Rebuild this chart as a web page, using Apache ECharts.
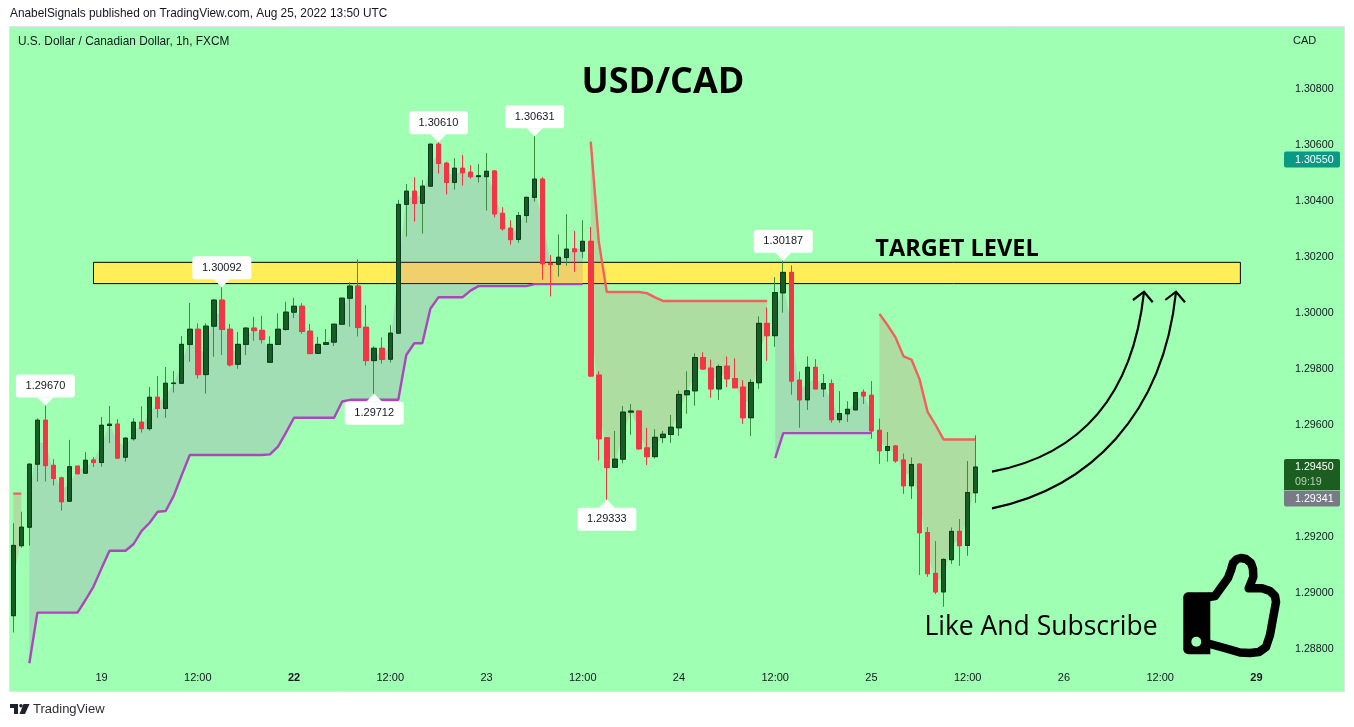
<!DOCTYPE html>
<html><head><meta charset="utf-8">
<style>html,body{margin:0;padding:0;background:#fff}#c{width:1354px;height:727px}</style>
<script src="https://cdn.jsdelivr.net/npm/echarts@6/dist/echarts.min.js"></script>
</head><body><div id="c"></div>
<script>
const opens=[1.28919,1.29169,1.29235,1.29460,1.29617,1.29456,1.29411,1.29328,1.29453,1.29428,
1.29475,1.29466,1.29598,1.29603,1.29485,1.29551,1.29610,1.29587,1.29699,1.29659,
1.29748,1.29749,1.29888,1.29942,1.29780,1.29953,1.30046,1.29942,1.29817,1.29888,
1.29946,1.29938,1.29824,1.29888,1.29941,1.30003,1.30024,1.29935,1.29856,1.29888,
1.29896,1.29960,1.30053,1.30096,1.29949,1.29830,1.29874,1.29835,1.29928,1.30388,
1.30435,1.30392,1.30453,1.30603,1.30535,1.30466,1.30517,1.30503,1.30487,1.30487,
1.30507,1.30356,1.30303,1.30263,1.30348,1.30413,1.30478,1.30176,1.30174,1.30198,
1.30229,1.30221,1.30256,1.29778,1.29554,1.29449,1.29478,1.29646,1.29650,1.29518,
1.29487,1.29555,1.29566,1.29590,1.29708,1.29722,1.29841,1.29803,1.29729,1.29810,
1.29766,1.29735,1.29626,1.29751,1.29963,1.29919,1.30072,1.30145,1.29760,1.29690,
1.29806,1.29729,1.29748,1.29619,1.29640,1.29654,1.29717,1.29706,1.29581,1.29509,
1.29525,1.29475,1.29383,1.29460,1.29216,1.29070,1.29004,1.29119,1.29220,1.29170,
1.29358];
const closes=[1.29170,1.29235,1.29460,1.29617,1.29455,1.29409,1.29326,1.29451,1.29426,1.29474,
1.29466,1.29599,1.29603,1.29482,1.29553,1.29610,1.29587,1.29699,1.29659,1.29749,
1.29750,1.29888,1.29942,1.29780,1.29953,1.30046,1.29941,1.29815,1.29888,1.29946,
1.29937,1.29905,1.29888,1.29942,1.30003,1.30024,1.29934,1.29855,1.29888,1.29894,
1.29960,1.30053,1.30096,1.29948,1.29830,1.29874,1.29834,1.29928,1.30388,1.30435,
1.30391,1.30453,1.30603,1.30534,1.30466,1.30517,1.30501,1.30487,1.30490,1.30506,
1.30354,1.30301,1.30262,1.30348,1.30413,1.30478,1.30176,1.30173,1.30199,1.30228,
1.30219,1.30256,1.29775,1.29551,1.29448,1.29478,1.29646,1.29650,1.29515,1.29487,
1.29556,1.29567,1.29592,1.29709,1.29722,1.29841,1.29800,1.29729,1.29809,1.29765,
1.29733,1.29626,1.29752,1.29963,1.29919,1.30073,1.30145,1.29757,1.29690,1.29806,
1.29729,1.29748,1.29619,1.29641,1.29656,1.29716,1.29704,1.29579,1.29508,1.29523,
1.29472,1.29383,1.29459,1.29215,1.29069,1.29004,1.29120,1.29220,1.29169,1.29359,
1.29450];
const highs=[1.29249,1.29290,1.29463,1.29624,1.29670,1.29478,1.29415,1.29547,1.29453,1.29503,
1.29485,1.29629,1.29668,1.29621,1.29556,1.29624,1.29667,1.29736,1.29775,1.29807,
1.29793,1.29918,1.30036,1.29963,1.29963,1.30050,1.30092,1.29961,1.29932,1.29949,
1.29986,1.29990,1.29917,1.29999,1.30040,1.30054,1.30035,1.29961,1.29915,1.29943,
1.29960,1.30053,1.30110,1.30192,1.30028,1.29881,1.29913,1.29957,1.30404,1.30461,
1.30485,1.30475,1.30603,1.30610,1.30540,1.30553,1.30565,1.30528,1.30532,1.30571,
1.30510,1.30378,1.30331,1.30361,1.30416,1.30631,1.30485,1.30207,1.30281,1.30353,
1.30293,1.30331,1.30307,1.29792,1.29556,1.29579,1.29668,1.29675,1.29650,1.29590,
1.29585,1.29579,1.29636,1.29723,1.29792,1.29856,1.29860,1.29834,1.29816,1.29845,
1.29838,1.29760,1.29764,1.29988,1.30020,1.30128,1.30187,1.30170,1.29791,1.29845,
1.29835,1.29782,1.29763,1.29721,1.29685,1.29716,1.29727,1.29757,1.29623,1.29575,
1.29528,1.29498,1.29484,1.29463,1.29235,1.29185,1.29123,1.29234,1.29264,1.29471,
1.29563];
const lows=[1.28859,1.29162,1.29169,1.29398,1.29398,1.29384,1.29294,1.29326,1.29426,1.29428,
1.29450,1.29451,1.29536,1.29480,1.29469,1.29544,1.29573,1.29580,1.29626,1.29626,
1.29716,1.29748,1.29826,1.29766,1.29712,1.29844,1.29850,1.29809,1.29801,1.29850,
1.29901,1.29891,1.29823,1.29887,1.29937,1.29982,1.29926,1.29855,1.29855,1.29888,
1.29882,1.29959,1.29951,1.29916,1.29812,1.29712,1.29819,1.29823,1.29928,1.30273,
1.30326,1.30284,1.30453,1.30498,1.30423,1.30441,1.30455,1.30480,1.30466,1.30366,
1.30341,1.30294,1.30244,1.30251,1.30322,1.30398,1.30119,1.30059,1.30130,1.30169,
1.30147,1.30197,1.29773,1.29473,1.29333,1.29448,1.29463,1.29565,1.29512,1.29457,
1.29480,1.29535,1.29536,1.29561,1.29640,1.29669,1.29797,1.29697,1.29689,1.29735,
1.29732,1.29604,1.29561,1.29729,1.29829,1.29879,1.30001,1.29708,1.29590,1.29654,
1.29729,1.29700,1.29608,1.29608,1.29611,1.29654,1.29675,1.29551,1.29461,1.29469,
1.29465,1.29354,1.29336,1.29064,1.29058,1.28996,1.28951,1.29104,1.29097,1.29133,
1.29322];

// Supertrend-like stops: each run gives the bar it starts on and its values
const supportRunA=[1.28749,1.28930,1.28930,1.28930,1.28930,1.28930,1.28930,1.28975,1.29023,1.29088,
1.29151,1.29151,1.29151,1.29175,1.29222,1.29251,1.29290,1.29293,1.29347,1.29421,
1.29493,1.29493,1.29493,1.29493,1.29493,1.29493,1.29493,1.29493,1.29493,1.29493,
1.29495,1.29523,1.29573,1.29626,1.29626,1.29626,1.29626,1.29626,1.29626,1.29684,
1.29690,1.29690,1.29690,1.29690,1.29690,1.29690,1.29690,1.29850,1.29892,1.29892,
1.30015,1.30056,1.30056,1.30056,1.30056,1.30080,1.30096,1.30096,1.30096,1.30096,
1.30096,1.30096,1.30096,1.30103,1.30103,1.30103,1.30103,1.30103,1.30103,1.30103];
const supportRunB=[1.29482,1.29571,1.29571,1.29571,1.29571,1.29571,1.29571,1.29571,1.29571,1.29571,1.29571,1.29571,1.29571];
const resistRunA=[1.29355,1.29355];
const resistRunB=[1.30612,1.30255,1.30075,1.30075,1.30075,1.30075,1.30075,1.30071,1.30056,1.30043,
1.30043,1.30043,1.30043,1.30043,1.30043,1.30043,1.30043,1.30043,1.30043,1.30043,1.30043,1.30043,1.30043];
const resistRunC=[1.29997,1.29957,1.29913,1.29845,1.29833,1.29763,1.29647,1.29600,1.29548,1.29548,1.29548,1.29548,1.29548];
const supportStarts=[2,95], resistStarts=[0,72,108];

const barCount=159;
const timeTickBars=[11,23,35,47,59,71,83,95,107,119,131,143,155];
const timeTickLabels=['19','12:00','22','12:00','23','12:00','24','12:00','25','12:00','26','12:00','29'];
const boldTimeTicks=['22','29'];
const priceTicks=[1.288,1.290,1.292,1.294,1.296,1.298,1.300,1.302,1.304,1.306,1.308];

const calloutUpBars=[4,26,53,65,96], calloutUpPrices=[1.29670,1.30092,1.30610,1.30631,1.30187];
const calloutDownBars=[45,74], calloutDownPrices=[1.29712,1.29333];
const targetZone={fromBar:10,toBar:153,top:1.30181,bottom:1.30105};

const publishedLine='AnabelSignals published on TradingView.com, Aug 25, 2022 13:50 UTC';
const symbolLine='U.S. Dollar / Canadian Dollar, 1h, FXCM';
const bidBadge='1.30550', lastBadge='1.29450', countdownBadge='09:19', prevBadge='1.29341';

const BG='#9FFFB2', INK='#131722', UI='Liberation Sans', HEAD='Open Sans';

const cats=Array.from({length:barCount},(_,i)=>String(i));
const mids=opens.map((o,i)=>(o+closes[i])/2);
function runsToLine(runs,starts){const a=opens.map(()=>null);runs.forEach((r,k)=>r.forEach((v,j)=>{a[starts[k]+j]=v;}));return a;}
const support=runsToLine([supportRunA,supportRunB],supportStarts);
const resist=runsToLine([resistRunA,resistRunB,resistRunC],resistStarts);
const lowerDiff=support.map((v,i)=>v==null?null:mids[i]-v);
const upperBase=resist.map((v,i)=>v==null?null:mids[i]);
const upperDiff=resist.map((v,i)=>v==null?null:v-mids[i]);

const ohlc=opens.map((o,i)=>[o,closes[i],lows[i],highs[i]]);
const bodies=opens.map((o,i)=>[o,closes[i],Math.min(o,closes[i]),Math.max(o,closes[i])]);
function hidden(name,data,stack){return {name,type:'line',data,stack,symbol:'none',silent:true,z:2,lineStyle:{width:0,opacity:0}};}
function band(name,data,stack,color){return {name,type:'line',data,stack,symbol:'none',silent:true,z:2,lineStyle:{width:0,opacity:0},areaStyle:{color,opacity:1}};}
function stop(name,data,color){return {name,type:'line',data,symbol:'none',silent:true,z:3,lineStyle:{width:2.4,color}};}
function callout(name,bars,prices,up){
  return {name,type:'scatter',z:6,silent:true,clip:false,symbol:'triangle',symbolSize:[16,8],symbolRotate:up?180:0,symbolOffset:[0,up?-4:4],
    itemStyle:{color:'#fff',opacity:1},
    data:bars.map((b,i)=>[b,prices[i]]),
    label:{show:true,position:up?'top':'bottom',distance:0,color:INK,fontFamily:UI,fontSize:11,backgroundColor:'#fff',borderRadius:3,
      width:59,height:23,lineHeight:23,align:'center',formatter:p=>p.value[1].toFixed(5)}};
}
const chart=echarts.init(document.getElementById('c'),null,{renderer:'canvas'});
const thumbPoints=[[1209,597],[1215,596],[1228,578],[1231,570],[1233,563],[1237,559],[1241,558],[1246,559],[1251,563],[1253,569],[1253.3,577],[1248.7,588.3],[1262,588.3],[1270,591],[1275,596],[1276,602],[1272.7,620],[1270,635],[1266,647],[1259,652],[1250,653],[1240,652.5],[1228,649],[1210,644]];
chart.setOption({
  animation:false,backgroundColor:'#fff',
  grid:{left:9.3,top:27,width:1275.2,height:664,containLabel:false},
  tooltip:{show:false},legend:{show:false},
  xAxis:{type:'category',data:cats,boundaryGap:true,axisLine:{show:false},axisTick:{show:false},splitLine:{show:false},
    axisLabel:{show:true,inside:true,interval:0,margin:8,color:INK,fontFamily:UI,fontSize:11,hideOverlap:false,
      rich:{b:{fontWeight:'bold',fontFamily:UI,fontSize:11,color:INK}},
      formatter:(v,i)=>{const k=timeTickBars.indexOf(i);if(k<0)return '';const t=timeTickLabels[k];return boldTimeTicks.includes(t)?'{b|'+t+'}':t;}}},
  yAxis:{type:'value',position:'right',min:1.2865,max:1.3102143,scale:true,axisLine:{show:false},axisTick:{show:false},splitLine:{show:false},
    axisLabel:{customValues:priceTicks,margin:10.5,color:INK,fontFamily:UI,fontSize:10.7,align:'left',formatter:v=>v.toFixed(5)}},
  series:[
    {name:'zone',type:'line',data:[],z:1,silent:true,markArea:{silent:true,z:1,itemStyle:{color:'#FFEE58',borderColor:'#000',borderWidth:1,opacity:1},
      data:[[{xAxis:targetZone.fromBar,yAxis:targetZone.top},{xAxis:targetZone.toBar,yAxis:targetZone.bottom}]]}},
    hidden('supportBase',support,'lo'),
    band('supportFill',lowerDiff,'lo','rgba(171,71,188,0.18)'),
    hidden('resistBase',upperBase,'hi'),
    band('resistFill',upperDiff,'hi','rgba(242,54,69,0.17)'),
    stop('support',support,'#AB47BC'),
    stop('resist',resist,'#F25F5C'),
    {name:'wicks',type:'candlestick',data:ohlc,barWidth:5,z:4,silent:true,itemStyle:{color:'#388E3C',color0:'#F23645',borderColor:'#388E3C',borderColor0:'#F23645',borderWidth:1}},
    {name:'USDCAD',type:'candlestick',data:bodies,barWidth:5,z:5,silent:true,itemStyle:{color:'#175C25',color0:'#F23645',borderColor:'#0B3A1C',borderColor0:'#F23645',borderWidth:1}},
    callout('highs',calloutUpBars,calloutUpPrices,true),
    callout('lows',calloutDownBars,calloutDownPrices,false)
  ],
  graphic:{elements:[
    {type:'rect',z:-5,silent:true,shape:{x:9.5,y:26.5,width:1335,height:665},style:{fill:BG,stroke:'#E0E3EB',lineWidth:1}},
    {type:'text',z:20,style:{x:10,y:14,text:publishedLine,fill:INK,font:'11.85px "'+UI+'"',textVerticalAlign:'middle'}},
    {type:'text',z:20,style:{x:18,y:42,text:symbolLine,fill:INK,font:'11.85px "'+UI+'"',textVerticalAlign:'middle'}},
    {type:'text',z:20,style:{x:1293,y:41,text:'CAD',fill:INK,font:'11px "'+UI+'"',textVerticalAlign:'middle'}},
    {type:'text',z:20,style:{x:663,y:83,text:'USD/CAD',fill:'#000',font:'bold 36px "'+HEAD+'"',textAlign:'center',textVerticalAlign:'middle'}},
    {type:'text',z:20,style:{x:957,y:249,text:'TARGET LEVEL',fill:'#000',font:'bold 23.5px "'+HEAD+'"',textAlign:'center',textVerticalAlign:'middle'}},
    {type:'text',z:20,style:{x:1041,y:627,text:'Like And Subscribe',fill:'#000',font:'26.5px "'+HEAD+'"',textAlign:'center',textVerticalAlign:'middle'}},
    {type:'bezierCurve',z:20,silent:true,shape:{x1:992,y1:471.7,cpx1:1075,cpy1:456,cpx2:1132,cpy2:402,x2:1144,y2:292},style:{fill:'none',stroke:'#000',lineWidth:2.2}},
    {type:'bezierCurve',z:20,silent:true,shape:{x1:992,y1:508.3,cpx1:1090,cpy1:488,cpx2:1163,cpy2:415,x2:1176,y2:292},style:{fill:'none',stroke:'#000',lineWidth:2.2}},
    {type:'polyline',z:20,silent:true,shape:{points:[[1133,300],[1144,291.7],[1152.7,302.3]]},style:{fill:'none',stroke:'#000',lineWidth:2.2}},
    {type:'polyline',z:20,silent:true,shape:{points:[[1165.3,300],[1176,291.7],[1185,302.3]]},style:{fill:'none',stroke:'#000',lineWidth:2.2}},
    {type:'rect',z:20,silent:true,shape:{x:1183.3,y:592.3,width:27,height:62,r:[5,0,0,5]},style:{fill:'#000'}},
    {type:'circle',z:21,silent:true,shape:{cx:1196.3,cy:641.7,r:5},style:{fill:BG}},
    {type:'polyline',z:20,silent:true,shape:{points:thumbPoints},style:{fill:'none',stroke:'#000',lineWidth:8.5,lineJoin:'round',lineCap:'round'}},
    {type:'rect',z:20,silent:true,shape:{x:1284,y:151.5,width:56,height:16,r:[2,2,2,2]},style:{fill:'#0A9982'}},
    {type:'text',z:21,style:{x:1295,y:160,text:bidBadge,fill:'#fff',font:'10.7px "'+UI+'"',textVerticalAlign:'middle'}},
    {type:'rect',z:20,silent:true,shape:{x:1284,y:459,width:56,height:31,r:[2,2,0,0]},style:{fill:'#1B5E20'}},
    {type:'text',z:21,style:{x:1295,y:467,text:lastBadge,fill:'#fff',font:'10.7px "'+UI+'"',textVerticalAlign:'middle'}},
    {type:'text',z:21,style:{x:1295,y:482,text:countdownBadge,fill:'#B7D3B9',font:'10.7px "'+UI+'"',textVerticalAlign:'middle'}},
    {type:'rect',z:20,silent:true,shape:{x:1284,y:490.5,width:56,height:16,r:[0,0,2,2]},style:{fill:'#787B86'}},
    {type:'text',z:21,style:{x:1295,y:499,text:prevBadge,fill:'#fff',font:'10.7px "'+UI+'"',textVerticalAlign:'middle'}},
    {type:'polygon',z:20,silent:true,shape:{points:[[10,704],[18,704],[18,714],[14,714],[14,708],[10,708]]},style:{fill:'#1E222D'}},
    {type:'polygon',z:20,silent:true,shape:{points:[[23.5,704],[29.5,704],[25,714],[19.5,714]]},style:{fill:'#1E222D'}},
    {type:'circle',z:20,silent:true,shape:{cx:21,cy:705.8,r:1.8},style:{fill:'#1E222D'}},
    {type:'text',z:20,style:{x:33,y:709,text:'TradingView',fill:'#2A2E39',font:'13px "'+UI+'"',textVerticalAlign:'middle'}}
  ]}
});
</script></body></html>
